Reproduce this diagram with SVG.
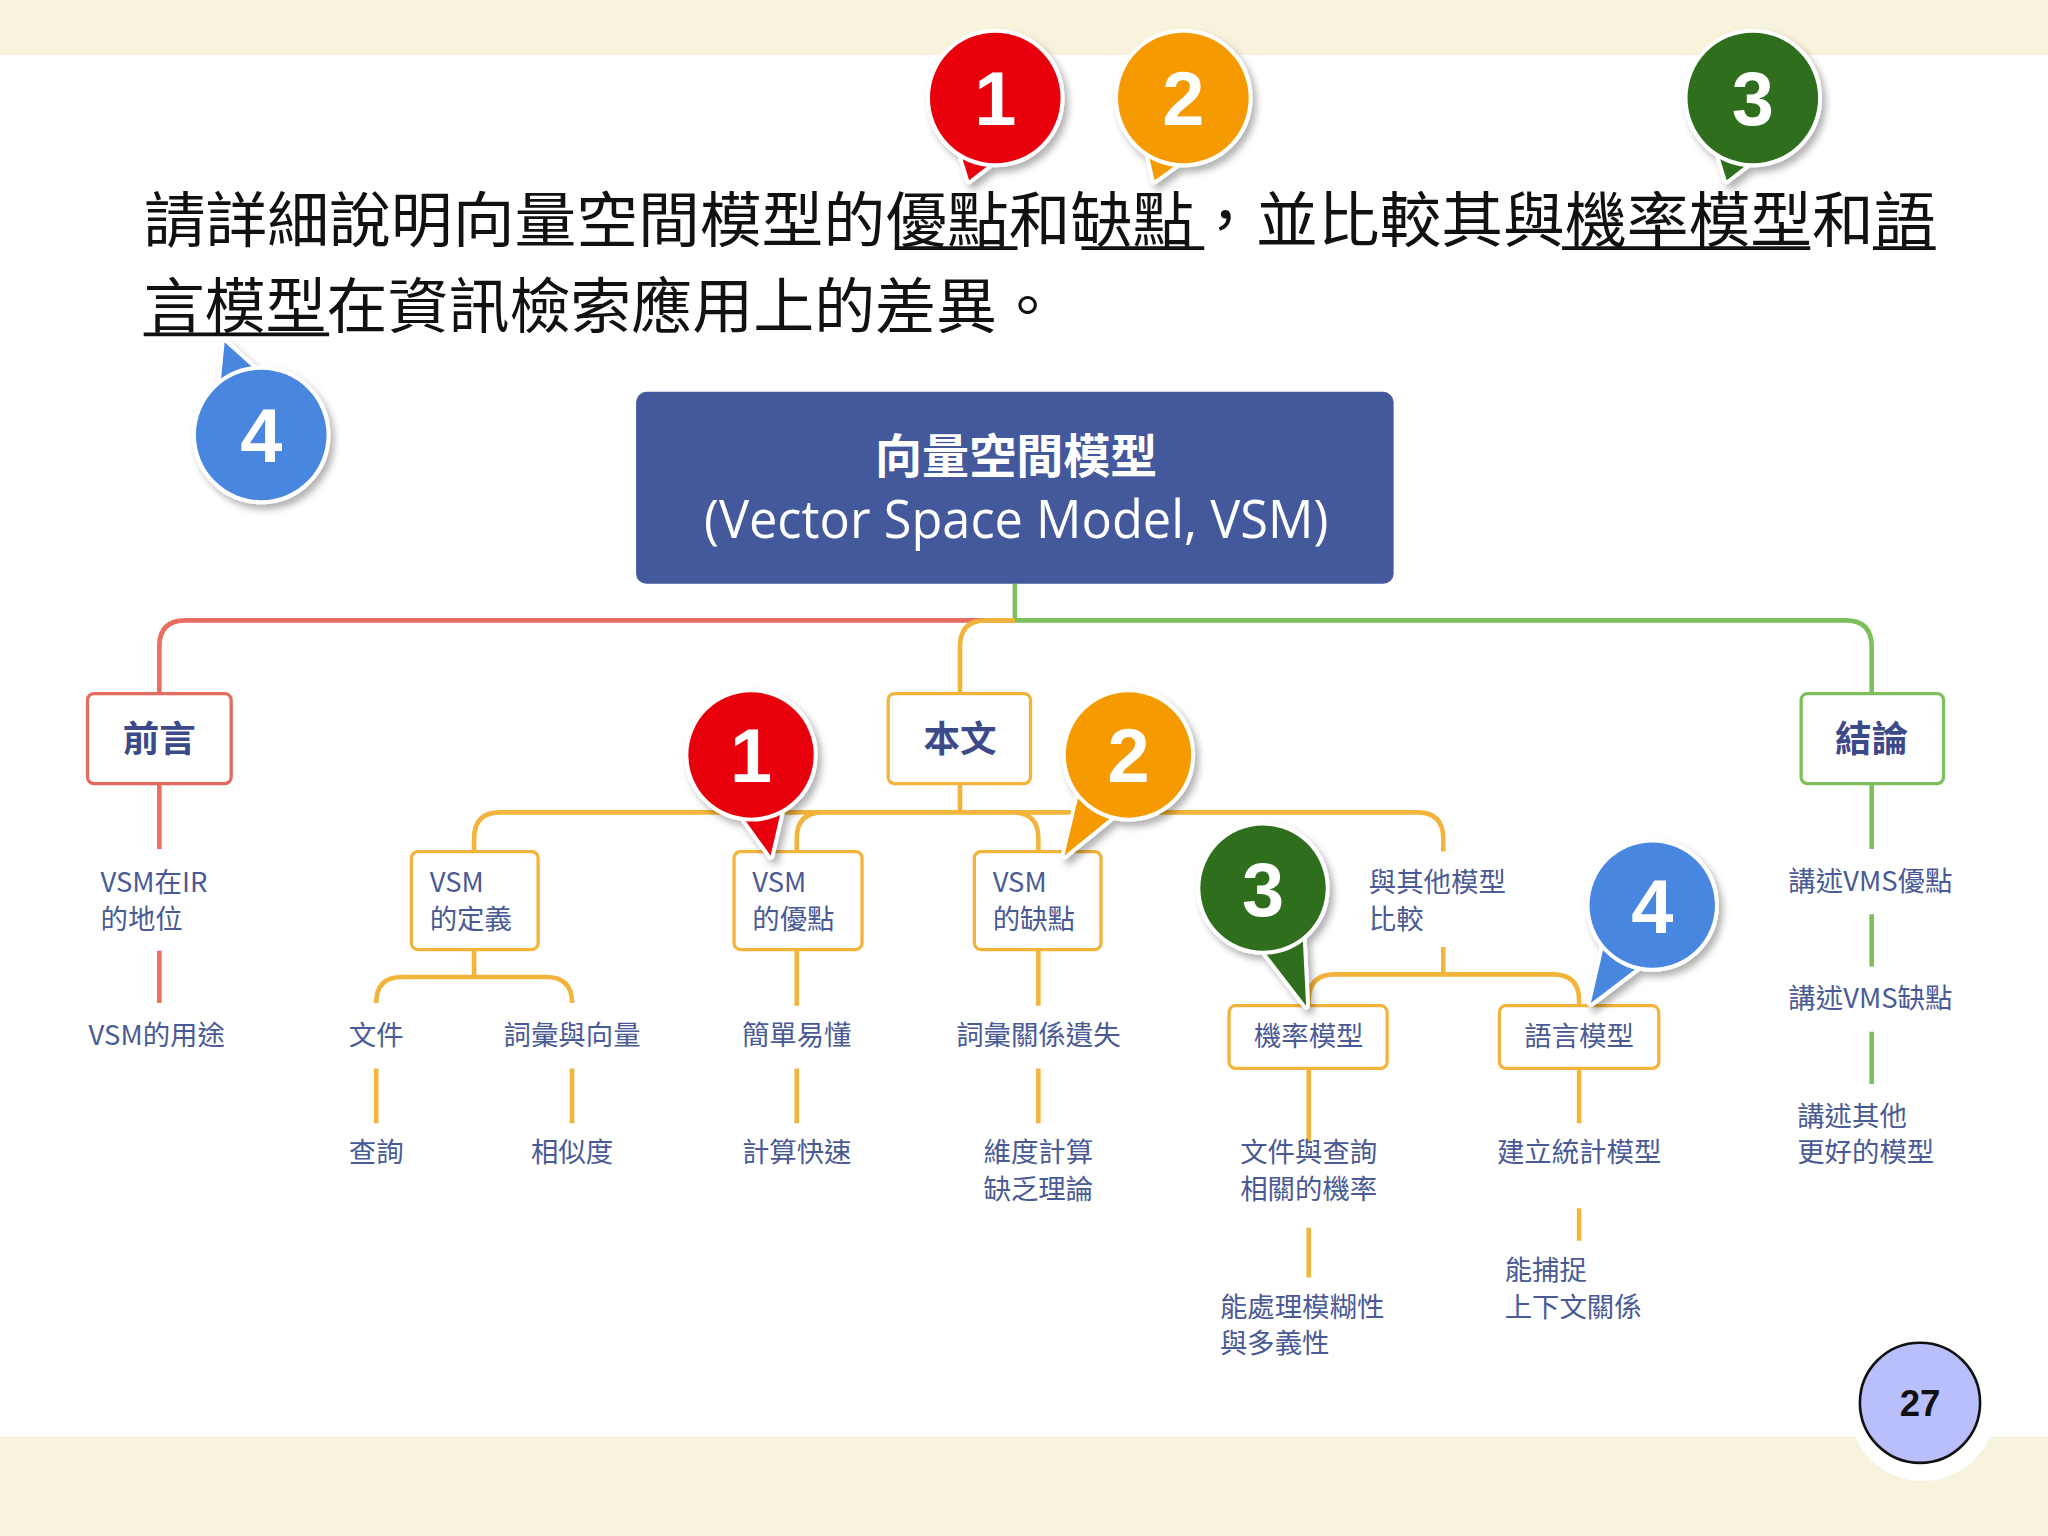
<svg xmlns="http://www.w3.org/2000/svg" width="2048" height="1536" viewBox="0 0 2048 1536">
<defs>
<style>
.q{font-family:"Noto Sans CJK TC","Noto Sans CJK SC",sans-serif;font-size:46px;fill:#111}
.t{font-family:"Noto Sans CJK TC","Noto Sans CJK SC",sans-serif;font-size:21px;fill:#4a5a95}
.h{font-family:"Noto Sans CJK TC","Noto Sans CJK SC",sans-serif;font-size:28px;font-weight:bold;fill:#3d4a8a;text-anchor:middle}
.c{text-anchor:middle}
.box{fill:#fff;stroke-width:2.5}
.o{stroke:#f2b43a}
.ln{fill:none;stroke-width:3.5}
.n{font-family:"Liberation Sans",Arial,sans-serif;font-weight:bold;font-size:58px;fill:#fff;text-anchor:middle}
.ul{stroke:#111;stroke-width:3}
</style>
<filter id="sh" x="-30%" y="-30%" width="160%" height="160%"><feDropShadow dx="3" dy="4" stdDeviation="3" flood-color="#000" flood-opacity="0.3"/></filter>
</defs>
<g transform="scale(1.30612)">
<rect x="0" y="0" width="1568" height="1176" fill="#fff"/>
<rect x="0" y="0" width="1568" height="42" fill="#f8f3dc"/>
<rect x="0" y="1100" width="1568" height="76" fill="#f8f3dc"/>

<g id="question">
<text class="q" x="110" y="185" textLength="1372" lengthAdjust="spacingAndGlyphs">請詳細說明向量空間模型的優點和缺點，並比較其與機率模型和語</text>
<text class="q" x="110" y="251" textLength="700" lengthAdjust="spacingAndGlyphs">言模型在資訊檢索應用上的差異。</text>
<line class="ul" x1="685" y1="190" x2="779" y2="190"/>
<line class="ul" x1="828" y1="190" x2="922" y2="190"/>
<line class="ul" x1="1196" y1="190" x2="1386" y2="190"/>
<line class="ul" x1="1434" y1="190" x2="1482" y2="190"/>
<line class="ul" x1="110" y1="256" x2="252" y2="256"/>
</g>

<g id="connectors">
<path class="ln" stroke="#ea6e60" d="M777,475 H142 Q122,475 122,495 V530"/>
<path class="ln" stroke="#7dbf5b" d="M777,447 V475 H1413 Q1433,475 1433,495 V530"/>
<path class="ln" stroke="#f2b43a" d="M777,475 H755 Q735,475 735,495 V530"/>
<path class="ln" stroke="#f2b43a" d="M735,600 V622 M383,622 H1085 Q1105,622 1105,642 V652 M363,652 V642 Q363,622 383,622 M610,652 V642 Q610,622 630,622 M775,622 Q795,622 795,642 V652"/>
<path class="ln" stroke="#f2b43a" stroke-width="3" d="M363,727 V748 M308,748 H418 Q438,748 438,768 M288,768 Q288,748 308,748"/>
<path class="ln" stroke="#f2b43a" stroke-width="3" d="M288,818 V860 M438,818 V860 M610,727 V770 M610,818 V860 M795,727 V770 M795,818 V860"/>
<path class="ln" stroke="#f2b43a" stroke-width="3" d="M1105,725 V745 M1022,746 H1189 Q1209,746 1209,766 V770 M1002,770 V766 Q1002,746 1022,746"/>
<path class="ln" stroke="#f2b43a" stroke-width="3" d="M1002,818 V875 M1002,940 V978 M1209,818 V860 M1209,925 V950"/>
<path class="ln" stroke="#ea6e60" stroke-width="3" d="M122,600 V650 M122,728 V768"/>
<path class="ln" stroke="#7dbf5b" stroke-width="3" d="M1433,600 V650 M1433,700 V740 M1433,790 V830"/>
</g>

<g id="root">
<rect x="487" y="300" width="580" height="147" rx="8" fill="#44599c"/>
<text class="h" x="778" y="362" style="fill:#fff;font-size:36px">向量空間模型</text>
<text x="778" y="412" class="c" style="font-family:'Open Sans',sans-serif;font-size:40px;fill:#fff" textLength="478" lengthAdjust="spacingAndGlyphs">(Vector Space Model, VSM)</text>
</g>

<g id="intro">
<rect class="box" x="67" y="531" width="110" height="69" rx="5" stroke="#e26a5f"/>
<text class="h" x="122" y="576">前言</text>
<text class="t" x="77" y="683">VSM在IR</text><text class="t" x="77" y="711">的地位</text>
<text class="t c" x="120" y="800">VSM的用途</text>
</g>

<g id="body">
<rect class="box o" x="680" y="531" width="109" height="69" rx="5"/>
<text class="h" x="735" y="576">本文</text>
</g>

<g id="def">
<rect class="box o" x="315" y="652" width="97" height="75" rx="5"/>
<text class="t" x="329" y="683">VSM</text><text class="t" x="329" y="711">的定義</text>
<text class="t c" x="288" y="800">文件</text><text class="t c" x="438" y="800">詞彙與向量</text>
<text class="t c" x="288" y="890">查詢</text><text class="t c" x="438" y="890">相似度</text>
</g>

<g id="pros">
<rect class="box o" x="562" y="652" width="98" height="75" rx="5"/>
<text class="t" x="576" y="683">VSM</text><text class="t" x="576" y="711">的優點</text>
<text class="t c" x="610" y="800">簡單易懂</text>
<text class="t c" x="610" y="890">計算快速</text>
</g>

<g id="cons">
<rect class="box o" x="746" y="652" width="97" height="75" rx="5"/>
<text class="t" x="760" y="683">VSM</text><text class="t" x="760" y="711">的缺點</text>
<text class="t c" x="795" y="800">詞彙關係遺失</text>
<text class="t c" x="795" y="890">維度計算</text><text class="t c" x="795" y="918">缺乏理論</text>
</g>

<g id="compare">
<text class="t" x="1048" y="683">與其他模型</text><text class="t" x="1048" y="711">比較</text>
</g>

<g id="prob">
<rect class="box o" x="941" y="770" width="121" height="48" rx="5"/>
<text class="t c" x="1002" y="801">機率模型</text>
<text class="t c" x="1002" y="890">文件與查詢</text><text class="t c" x="1002" y="918">相關的機率</text>
<text class="t" x="934" y="1008">能處理模糊性</text><text class="t" x="934" y="1036">與多義性</text>
</g>

<g id="lang">
<rect class="box o" x="1148" y="770" width="122" height="48" rx="5"/>
<text class="t c" x="1209" y="801">語言模型</text>
<text class="t c" x="1209" y="890">建立統計模型</text>
<text class="t" x="1152" y="980">能捕捉</text><text class="t" x="1152" y="1008">上下文關係</text>
</g>

<g id="concl">
<rect class="box" x="1379" y="531" width="109" height="69" rx="5" stroke="#7dbf5b"/>
<text class="h" x="1433" y="576">結論</text>
<text class="t c" x="1432" y="682">講述VMS優點</text>
<text class="t c" x="1432" y="772">講述VMS缺點</text>
<text class="t" x="1376" y="862">講述其他</text><text class="t" x="1376" y="890">更好的模型</text>
</g>

<g id="bubbles" filter="url(#sh)" stroke="#fff" stroke-width="6" stroke-linejoin="round" paint-order="stroke">
<g fill="#e8000a"><path d="M742,138 L768,118 L734,112 Z"/><circle cx="762" cy="75" r="50"/></g>
<g fill="#f59a00"><path d="M884,138 L912,118 L878,112 Z"/><circle cx="906" cy="75" r="50"/></g>
<g fill="#2d6e1a"><path d="M1322,138 L1348,118 L1314,112 Z"/><circle cx="1342" cy="75" r="50"/></g>
<g fill="#4a86e0"><path d="M172,262 L202,289 L168,303 Z"/><circle cx="200" cy="333" r="50"/></g>
<g fill="#e8000a"><path d="M590,655 L600,612 L564,619 Z"/><circle cx="575" cy="578" r="48"/></g>
<g fill="#f59a00"><path d="M815,655 L858,620 L828,600 Z"/><circle cx="864" cy="578" r="48"/></g>
<g fill="#2d6e1a"><path d="M1000,770 L997,710 L963,722 Z"/><circle cx="967" cy="680" r="48"/></g>
<g fill="#4a86e0"><path d="M1218,768 L1260,736 L1230,716 Z"/><circle cx="1265" cy="693" r="48"/></g>
</g>
<g id="bubble-numbers">
<text class="n" x="762" y="96">1</text><text class="n" x="906" y="96">2</text><text class="n" x="1342" y="96">3</text><text class="n" x="200" y="354">4</text>
<text class="n" x="575" y="599">1</text><text class="n" x="864" y="599">2</text><text class="n" x="967" y="701">3</text><text class="n" x="1265" y="714">4</text>
</g>

<g id="page">
<circle cx="1472" cy="1078" r="56" fill="#fff"/>
<circle cx="1470" cy="1074" r="46" fill="#b9bffa" stroke="#111" stroke-width="2"/>
<text x="1470" y="1084" class="c" style="font-family:'Liberation Sans',sans-serif;font-weight:bold;font-size:28px;fill:#111">27</text>
</g>
</g>
</svg>
